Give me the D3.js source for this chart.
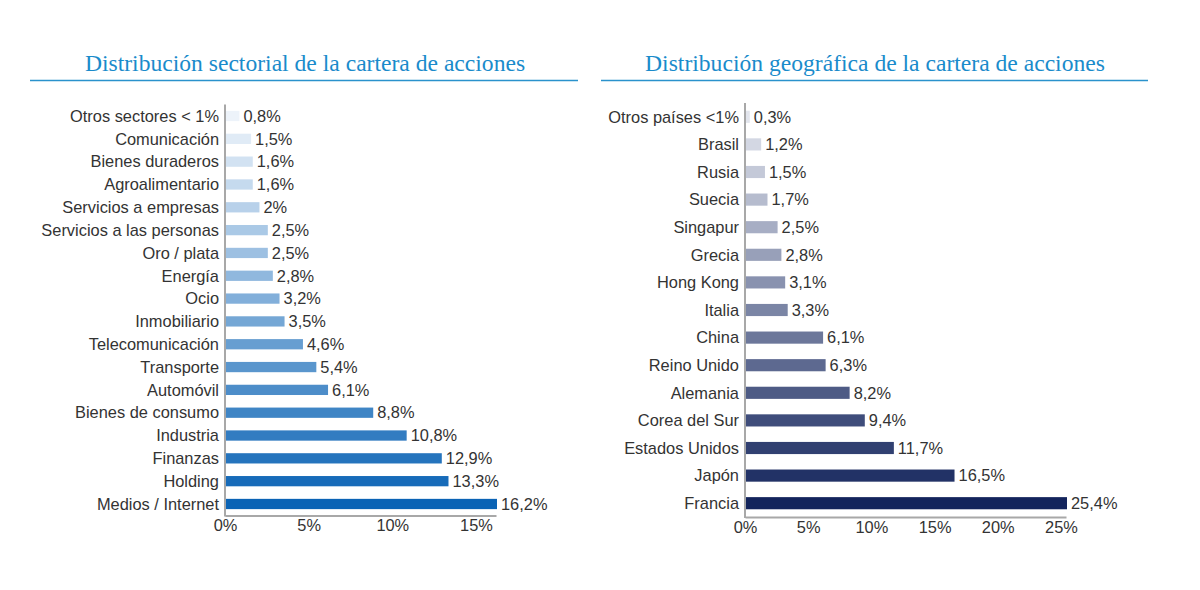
<!DOCTYPE html>
<html>
<head>
<meta charset="utf-8">
<script src="https://cdn.jsdelivr.net/npm/d3@7"></script>
<style>
  body { margin: 0; background: #fff; }
  svg { display: block; }
</style>
</head>
<body>
<svg id="chart" width="1200" height="590"></svg>
<script>
// data
const sectors = ["Otros sectores < 1%", "Comunicación", "Bienes duraderos", "Agroalimentario",
  "Servicios a empresas", "Servicios a las personas", "Oro / plata", "Energía", "Ocio",
  "Inmobiliario", "Telecomunicación", "Transporte", "Automóvil", "Bienes de consumo",
  "Industria", "Finanzas", "Holding", "Medios / Internet"];
const sectorValues = [0.8, 1.5, 1.6, 1.6, 2, 2.5, 2.5, 2.8, 3.2, 3.5, 4.6, 5.4, 6.1, 8.8, 10.8, 12.9, 13.3, 16.2];
const sectorTicks = [0, 5, 10, 15];

const countries = ["Otros países <1%", "Brasil", "Rusia", "Suecia", "Singapur", "Grecia",
  "Hong Kong", "Italia", "China", "Reino Unido", "Alemania", "Corea del Sur",
  "Estados Unidos", "Japón", "Francia"];
const countryValues = [0.3, 1.2, 1.5, 1.7, 2.5, 2.8, 3.1, 3.3, 6.1, 6.3, 8.2, 9.4, 11.7, 16.5, 25.4];
const countryTicks = [0, 5, 10, 15, 20, 25];

const svg = d3.select("#chart");
const fmt = v => String(v).replace(".", ",") + "%";
const sans = "'Liberation Sans', Arial, sans-serif";
const fs = 16.4;

function drawPanel(cfg) {
  const g = svg.append("g");

  // title + underline
  g.append("text")
    .attr("x", cfg.titleX).attr("y", 71)
    .attr("text-anchor", "middle")
    .attr("font-family", "'Liberation Serif', 'DejaVu Serif', serif")
    .attr("font-size", 23.6)
    .attr("fill", "#1a8bcb")
    .text(cfg.title);
  g.append("line")
    .attr("x1", cfg.lineX[0]).attr("x2", cfg.lineX[1])
    .attr("y1", 80.5).attr("y2", 80.5)
    .attr("stroke", "#2a92cc").attr("stroke-width", 1.5);

  const x = d3.scaleLinear().domain([0, cfg.xMax]).range([cfg.x0, cfg.x1]);
  const y = d3.scaleBand().domain(cfg.cats).range(cfg.yRange)
    .paddingInner(cfg.pad).paddingOuter(cfg.pad / 2);
  const color = d3.scaleLinear().domain([0, cfg.cats.length - 1])
    .range(cfg.colors).interpolate(d3.interpolateRgb);

  const rows = cfg.cats.map((c, i) => ({c: c, v: cfg.values[i], i: i}));

  g.selectAll("rect.bar")
    .data(rows)
    .enter()
    .append("rect")
      .attr("class", "bar")
      .attr("x", x(0) + 1)
      .attr("y", d => y(d.c))
      .attr("width", d => x(d.v) - x(0))
      .attr("height", y.bandwidth())
      .attr("fill", d => color(d.i));

  // category labels
  g.selectAll("text.cat")
    .data(rows)
    .enter()
    .append("text")
      .attr("class", "cat")
      .attr("x", x(0) - 6)
      .attr("y", d => y(d.c) + y.bandwidth() / 2)
      .attr("dy", "0.35em")
      .attr("text-anchor", "end")
      .attr("font-family", sans)
      .attr("font-size", fs)
      .attr("fill", "#333")
      .text(d => d.c);

  // value labels
  g.selectAll("text.val")
    .data(rows)
    .enter()
    .append("text")
      .attr("class", "val")
      .attr("x", d => x(d.v) + 5)
      .attr("y", d => y(d.c) + y.bandwidth() / 2)
      .attr("dy", "0.35em")
      .attr("font-family", sans)
      .attr("font-size", fs)
      .attr("fill", "#333")
      .text(d => fmt(d.v));

  // axes
  const xAxis = d3.axisBottom(x).tickValues(cfg.ticks).tickSize(0).tickPadding(4)
    .tickFormat(d => d + "%");
  const ax = g.append("g")
    .attr("transform", `translate(0,${cfg.yRange[1]})`)
    .call(xAxis);
  ax.select(".domain").attr("stroke", "#a8a8a8").attr("stroke-width", 2);
  ax.selectAll("text")
    .attr("font-family", sans)
    .attr("font-size", fs)
    .attr("fill", "#333");

  g.append("line")
    .attr("x1", x(0)).attr("x2", x(0))
    .attr("y1", cfg.yRange[0]).attr("y2", cfg.yRange[1] + 1)
    .attr("stroke", "#a8a8a8").attr("stroke-width", 2);
}

drawPanel({
  title: "Distribución sectorial de la cartera de acciones",
  titleX: 305, lineX: [30, 578],
  cats: sectors, values: sectorValues, ticks: sectorTicks,
  xMax: 16.2, x0: 225, x1: 496,
  yRange: [104.6, 515.4], pad: 0.55,
  colors: ["#edf3fa", "#0a63b5"]
});

drawPanel({
  title: "Distribución geográfica de la cartera de acciones",
  titleX: 875, lineX: [601, 1148],
  cats: countries, values: countryValues, ticks: countryTicks,
  xMax: 25.4, x0: 745, x1: 1066,
  yRange: [103, 517], pad: 0.56,
  colors: ["#e2e5ed", "#13245c"]
});
</script>
</body>
</html>
